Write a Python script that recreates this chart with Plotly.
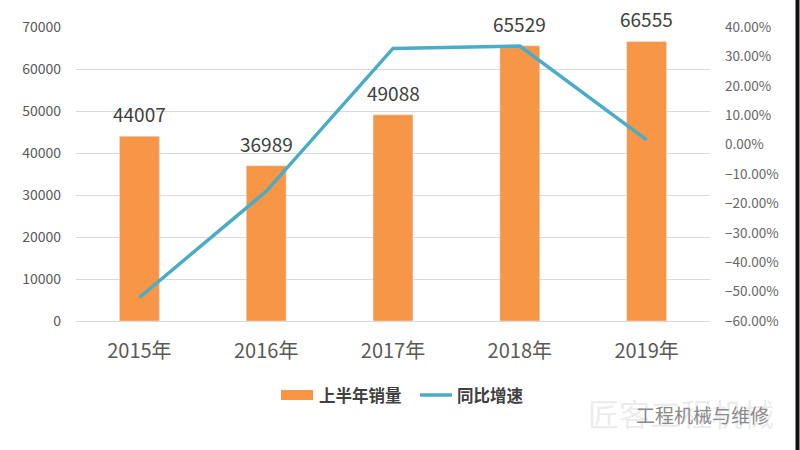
import plotly.graph_objects as go

years = ["2015年", "2016年", "2017年", "2018年", "2019年"]
sales = [44007, 36989, 49088, 65529, 66555]
growth = [-0.52, -0.159, 0.327, 0.335, 0.016]
bar_name = "上半年销量"
line_name = "同比增速"

ORANGE = "#F79646"
TEAL = "#4BACC6"
FONT = "Noto Sans CJK SC"

L, R, T, B = 76, 90, 27, 129
W, H = 800, 450
pw, ph = W - L - R, H - T - B


def px(x):
    return (x - L) / pw


def py(y):
    return (H - B - y) / ph


fig = go.Figure()
fig.add_trace(go.Bar(x=years, y=sales, name=bar_name, marker_color=ORANGE,
                     width=0.315, yaxis="y", showlegend=False))
fig.add_trace(go.Scatter(x=years, y=growth, name=line_name, mode="lines",
                         line=dict(color=TEAL, width=3.5), yaxis="y2",
                         showlegend=False))

annotations = []
for yr, v in zip(years, sales):
    annotations.append(dict(x=yr, y=v, xref="x", yref="y", text=str(v),
                            showarrow=False, yanchor="bottom", yshift=7,
                            font=dict(family=FONT, size=19, color="#404040")))

# custom legend
legend_font = dict(family=FONT, size=16.5, color="#404040")
annotations.append(dict(x=px(317), y=py(395), xref="paper", yref="paper",
                        text="<b>" + bar_name + "</b>", showarrow=False,
                        xanchor="left", yanchor="middle", font=legend_font))
annotations.append(dict(x=px(455), y=py(395), xref="paper", yref="paper",
                        text="<b>" + line_name + "</b>", showarrow=False,
                        xanchor="left", yanchor="middle", font=legend_font))
# watermark
annotations.append(dict(x=px(586), y=py(412), xref="paper", yref="paper",
                        text="匠客工程机械", showarrow=False,
                        xanchor="left", yanchor="middle",
                        font=dict(family=FONT, size=31, color="rgba(200,200,200,0.35)")))
annotations.append(dict(x=px(634), y=py(414), xref="paper", yref="paper",
                        text="工程机械与维修", showarrow=False,
                        xanchor="left", yanchor="middle",
                        font=dict(family=FONT, size=19, color="#8a8a8a")))

shapes = [
    dict(type="rect", xref="paper", yref="paper", x0=px(281), x1=px(313),
         y0=py(400), y1=py(390), fillcolor=ORANGE, line=dict(width=0)),
    dict(type="line", xref="paper", yref="paper", x0=px(420), x1=px(452),
         y0=py(395), y1=py(395), line=dict(color=TEAL, width=3.5)),
    dict(type="line", xref="paper", yref="paper", x0=px(797.5), x1=px(797.5),
         y0=py(0), y1=py(450), line=dict(color="#111111", width=4)),
]

fig.update_layout(
    width=W, height=H,
    margin=dict(l=L, r=R, t=T, b=B),
    paper_bgcolor="white", plot_bgcolor="white",
    font=dict(family=FONT, color="#595959"),
    xaxis=dict(showgrid=False, showline=False, ticks="",
               tickfont=dict(size=20, color="#595959"), ticklabelstandoff=16),
    yaxis=dict(range=[0, 70000], dtick=10000, showgrid=True,
               gridcolor="#D9D9D9", gridwidth=1, zeroline=True,
               zerolinecolor="#D9D9D9", zerolinewidth=1, showline=False,
               tickformat="d", tickfont=dict(size=14, color="#595959"),
               ticklabelstandoff=14),
    yaxis2=dict(range=[-0.6, 0.4], dtick=0.1, tickformat=".2%",
                overlaying="y", side="right", showgrid=False, zeroline=False,
                showline=False, tickfont=dict(size=13.5, color="#666666"),
                ticklabelstandoff=14),
    bargap=0.685,
    annotations=annotations,
    shapes=shapes,
    showlegend=False,
)

fig.write_html("out.html", config={"displayModeBar": False},
               post_script="document.body.style.margin='0';document.body.style.overflow='hidden';")
